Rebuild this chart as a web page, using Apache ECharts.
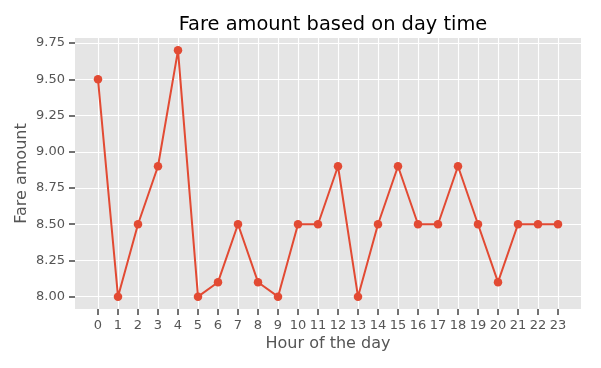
<!DOCTYPE html>
<html>
<head>
<meta charset="utf-8">
<script src="https://cdn.jsdelivr.net/npm/echarts@6/dist/echarts.min.js"></script>
<style>
html,body{margin:0;padding:0;background:#fff;}
#chart{width:601px;height:368px;}
</style>
</head>
<body>
<div id="chart"></div>
<script>
var hours = [0,1,2,3,4,5,6,7,8,9,10,11,12,13,14,15,16,17,18,19,20,21,22,23];
var fares = [9.5,8.0,8.5,8.9,9.7,8.0,8.1,8.5,8.1,8.0,8.5,8.5,8.9,8.0,8.5,8.9,8.5,8.5,8.9,8.5,8.1,8.5,8.5,8.5];
var yTicks = [8.00,8.25,8.50,8.75,9.00,9.25,9.50,9.75];

var chart = echarts.init(document.getElementById('chart'));
var font = 'DejaVu Sans';
chart.setOption({
  animation: false,
  backgroundColor: '#ffffff',
  title: {
    text: 'Fare amount based on day time',
    left: 328, top: 10, textAlign: 'center',
    textStyle: {fontFamily: font, fontSize: 19.4, fontWeight: 'normal', color: '#000'}
  },
  grid: {left: 75, right: 20, top: 38, bottom: 59, show: true, backgroundColor: '#E5E5E5', borderWidth: 0},
  xAxis: {
    type: 'value', min: -1.15, max: 24.15,
    name: 'Hour of the day', nameLocation: 'middle', nameGap: 27, nameMoveOverlap: false,
    nameTextStyle: {fontFamily: font, fontSize: 16, color: '#555555'},
    axisLine: {show: false, onZero: false},
    axisTick: {show: true, customValues: hours, length: 6, lineStyle: {color: '#444444', width: 1.5}},
    axisLabel: {customValues: hours, margin: 10, fontFamily: font, fontSize: 13, color: '#555555'},
    splitLine: {show: true, lineStyle: {color: '#ffffff', width: 1.1}}
  },
  yAxis: {
    type: 'value', min: 7.915, max: 9.785,
    name: 'Fare amount', nameLocation: 'middle', nameGap: 45.5, nameMoveOverlap: false,
    nameTextStyle: {fontFamily: font, fontSize: 16, color: '#555555'},
    axisLine: {show: false, onZero: false},
    axisTick: {show: true, customValues: yTicks, length: 6, lineStyle: {color: '#444444', width: 1.5}},
    axisLabel: {customValues: yTicks, margin: 10, fontFamily: font, fontSize: 13, color: '#555555',
      formatter: function (v) { return v.toFixed(2); }},
    splitLine: {show: true, lineStyle: {color: '#ffffff', width: 1.1}}
  },
  series: [{
    type: 'line',
    data: hours.map(function (h, i) { return [h, fares[i]]; }),
    symbol: 'circle', symbolSize: 8.5, showAllSymbol: true,
    lineStyle: {color: '#E24A33', width: 2},
    itemStyle: {color: '#E24A33'}
  }]
});
</script>
</body>
</html>
